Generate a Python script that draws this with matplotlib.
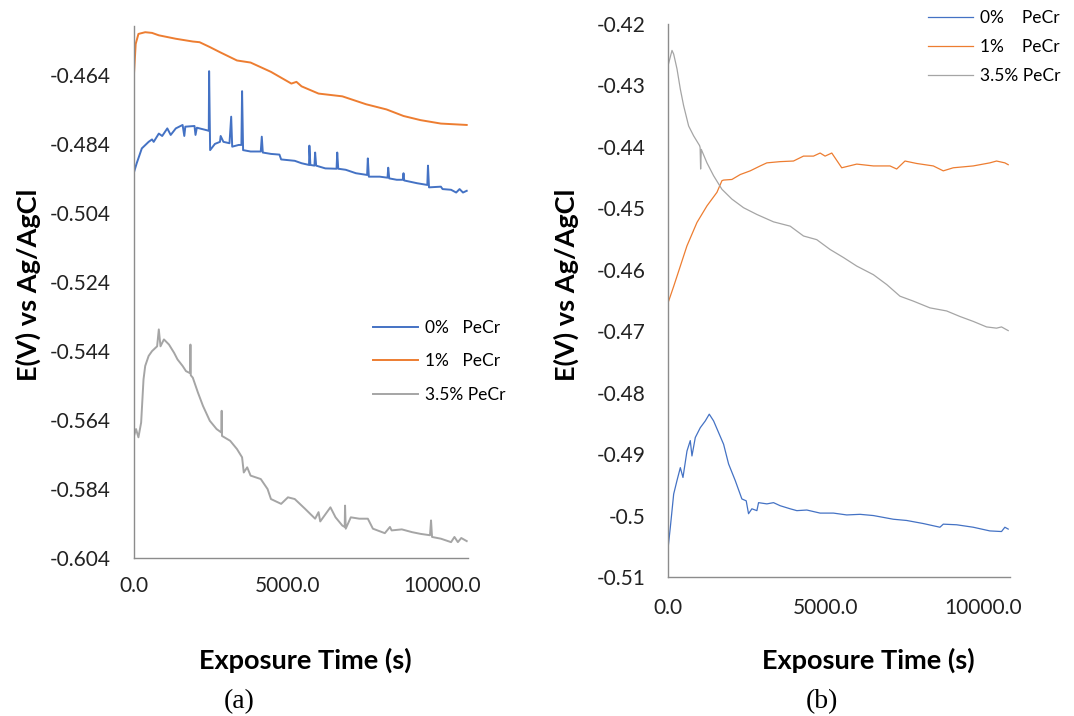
import matplotlib
matplotlib.use("Agg")
import matplotlib.pyplot as plt
import numpy as np

# ---- panel (a) data: time (s) / potential (V) ----
t_a_0 = [0, 88, 254, 475, 585, 640, 806, 916, 1082, 1192, 1358, 1579, 1634, 1667,
         1965, 1998, 2042, 2352, 2429, 2440, 2473, 2628, 2793, 2815, 2904, 3102,
         3157, 3190, 3400, 3489, 3511, 3544, 3787, 4118, 4151, 4184, 4449, 4725,
         4780, 5222, 5443, 5686, 5697, 5730, 5862, 5884, 5917, 6216, 6580, 6602,
         6635, 6878, 7209, 7573, 7596, 7629, 7982, 8236, 8258, 8291, 8534, 8733,
         8755, 8777, 9196, 9528, 9550, 9583, 9969, 10024, 10300, 10466, 10576,
         10687, 10808]
e_a_0 = [-0.4921, -0.4895, -0.4852, -0.4833, -0.4826, -0.4833, -0.4809, -0.4816,
         -0.4794, -0.4813, -0.4794, -0.4784, -0.4816, -0.4789, -0.4787, -0.4813,
         -0.4792, -0.4799, -0.4801, -0.4628, -0.4857, -0.4839, -0.4833, -0.4816,
         -0.4833, -0.4837, -0.4760, -0.4847, -0.4842, -0.4842, -0.4686, -0.4857,
         -0.4861, -0.4861, -0.4818, -0.4864, -0.4868, -0.4870, -0.4884, -0.4888,
         -0.4895, -0.4900, -0.4844, -0.4900, -0.4902, -0.4864, -0.4902, -0.4910,
         -0.4911, -0.4864, -0.4911, -0.4914, -0.4924, -0.4929, -0.4881, -0.4934,
         -0.4934, -0.4937, -0.4908, -0.4939, -0.4943, -0.4943, -0.4924, -0.4945,
         -0.4953, -0.4958, -0.4902, -0.4965, -0.4963, -0.4970, -0.4972, -0.4980,
         -0.4970, -0.4980, -0.4975]

t_a_1 = [0, 55, 144, 364, 585, 806, 1358, 1910, 2131, 2462, 2793, 3345, 3787, 4449,
         5112, 5277, 5443, 5995, 6768, 7540, 8203, 8755, 9307, 9969, 10808]
e_a_1 = [-0.4635, -0.4549, -0.4520, -0.4515, -0.4517, -0.4524, -0.4534, -0.4542,
         -0.4544, -0.4558, -0.4573, -0.4597, -0.4603, -0.4630, -0.4664, -0.4659,
         -0.4672, -0.4693, -0.4701, -0.4724, -0.4739, -0.4758, -0.4770, -0.4780,
         -0.4784]

t_a_35 = [0, 66, 144, 232, 309, 364, 475, 585, 751, 806, 861, 972, 1137, 1303, 1413,
          1579, 1689, 1822, 1833, 1844, 1910, 2076, 2241, 2462, 2683, 2837, 2848,
          2859, 3124, 3345, 3511, 3566, 3677, 3787, 4118, 4339, 4449, 4780, 5001,
          5222, 5553, 5884, 5995, 6050, 6381, 6547, 6768, 6845, 6856, 6878, 7043,
          7319, 7596, 7761, 8148, 8314, 8369, 8700, 9031, 9307, 9616, 9649, 9682,
          9969, 10300, 10410, 10521, 10631, 10808]
e_a_35 = [-0.5686, -0.5666, -0.5690, -0.5647, -0.5522, -0.5483, -0.5454, -0.5440,
          -0.5426, -0.5377, -0.5426, -0.5406, -0.5421, -0.5445, -0.5464, -0.5483,
          -0.5498, -0.5504, -0.5421, -0.5510, -0.5517, -0.5560, -0.5599, -0.5642,
          -0.5666, -0.5676, -0.5613, -0.5686, -0.5700, -0.5724, -0.5748, -0.5792,
          -0.5777, -0.5801, -0.5811, -0.5840, -0.5869, -0.5883, -0.5864, -0.5869,
          -0.5897, -0.5926, -0.5907, -0.5934, -0.5893, -0.5922, -0.5946, -0.5950,
          -0.5888, -0.5955, -0.5922, -0.5926, -0.5926, -0.5955, -0.5968, -0.5950,
          -0.5960, -0.5957, -0.5965, -0.5970, -0.5974, -0.5931, -0.5979, -0.5984,
          -0.5994, -0.5979, -0.5994, -0.5982, -0.5991]

# ---- panel (b) data ----
t_b_0 = [0, 74, 180, 285, 391, 475, 602, 707, 760, 866, 1024, 1183, 1309, 1447,
         1764, 1922, 2133, 2344, 2481, 2555, 2661, 2820, 2873, 3136, 3348, 3559,
         3876, 4087, 4404, 4826, 5248, 5671, 6093, 6516, 7149, 7571, 8100, 8628,
         8733, 9156, 9683, 10211, 10581, 10687, 10793]
e_b_0 = [-0.5054, -0.5019, -0.4965, -0.4943, -0.4922, -0.4938, -0.4895, -0.4878,
         -0.4903, -0.4873, -0.4857, -0.4846, -0.4835, -0.4846, -0.4884, -0.4916,
         -0.4943, -0.4973, -0.4976, -0.4997, -0.4989, -0.4992, -0.4979, -0.4981,
         -0.4979, -0.4984, -0.4989, -0.4992, -0.4991, -0.4996, -0.4996, -0.4999,
         -0.4998, -0.5000, -0.5006, -0.5008, -0.5013, -0.5019, -0.5014, -0.5015,
         -0.5019, -0.5025, -0.5026, -0.5019, -0.5022]

t_b_1 = [0, 180, 391, 602, 919, 1236, 1552, 1711, 1764, 2028, 2292, 2608, 2925,
         3136, 3559, 3981, 4298, 4615, 4826, 4984, 5196, 5512, 5988, 6516, 7043,
         7255, 7519, 7889, 8417, 8733, 9050, 9683, 10211, 10423, 10687, 10793]
e_b_1 = [-0.4654, -0.4627, -0.4594, -0.4561, -0.4523, -0.4496, -0.4474, -0.4455,
         -0.4454, -0.4453, -0.4445, -0.4439, -0.4431, -0.4426, -0.4424, -0.4423,
         -0.4415, -0.4415, -0.4410, -0.4415, -0.4410, -0.4434, -0.4428, -0.4431,
         -0.4431, -0.4436, -0.4423, -0.4427, -0.4431, -0.4439, -0.4434, -0.4431,
         -0.4426, -0.4423, -0.4426, -0.4429]

t_b_35 = [0, 127, 180, 285, 391, 496, 655, 813, 1003, 1019, 1035, 1056, 1236, 1447,
          1711, 2028, 2397, 2820, 3348, 3876, 4298, 4720, 5143, 5565, 5988, 6516,
          6938, 7360, 7783, 8311, 8839, 9261, 9683, 10106, 10423, 10581, 10793]
e_b_35 = [-0.4268, -0.4243, -0.4249, -0.4273, -0.4306, -0.4333, -0.4366, -0.4382,
          -0.4398, -0.4401, -0.4436, -0.4404, -0.4426, -0.4447, -0.4469, -0.4485,
          -0.4499, -0.4510, -0.4522, -0.4529, -0.4545, -0.4551, -0.4567, -0.4580,
          -0.4594, -0.4608, -0.4624, -0.4643, -0.4651, -0.4662, -0.4667, -0.4676,
          -0.4684, -0.4693, -0.4695, -0.4693, -0.4699]

labels_a = ["0%   PeCr", "1%   PeCr", "3.5% PeCr"]
labels_b = ["0%    PeCr", "1%    PeCr", "3.5% PeCr"]
colors = ["#4472C4", "#ED7D31", "#A5A5A5"]

W, H = 1074, 716
fig = plt.figure(figsize=(W / 100, H / 100), dpi=100)
plt.rcParams['font.family'] = ['Lato', 'DejaVu Sans']


def box(l, r, t, b):
    return [l / W, 1 - b / H, (r - l) / W, (b - t) / H]


def style(ax, xmax, ylo, yhi, yticks, yfmt, ypad, xpad):
    ax.set_xlim(0, xmax)
    ax.set_ylim(ylo, yhi)
    ax.set_yticks(yticks)
    ax.set_yticklabels([yfmt(v) for v in yticks])
    ax.set_xticks([0, 5000, 10000])
    ax.set_xticklabels(["0.0", "5000.0", "10000.0"])
    for s in ["top", "right"]:
        ax.spines[s].set_visible(False)
    for s in ["left", "bottom"]:
        ax.spines[s].set_color("#8c8c8c")
        ax.spines[s].set_linewidth(1.0)
    ax.tick_params(axis="y", length=0, pad=ypad, labelsize=15, colors="#222222")
    ax.tick_params(axis="x", length=0, pad=xpad, labelsize=15, colors="#222222")
    ax.patch.set_alpha(0)


# (a)
ax1 = fig.add_axes(box(134, 468, 26, 558))
ax1.plot(t_a_0, e_a_0, color=colors[0], lw=1.4, label=labels_a[0])
ax1.plot(t_a_1, e_a_1, color=colors[1], lw=1.4, label=labels_a[1])
ax1.plot(t_a_35, e_a_35, color=colors[2], lw=1.4, label=labels_a[2])
yt_a = np.round(np.arange(-0.604, -0.463, 0.02), 3)
style(ax1, 10850, -0.604, -0.4497, yt_a, lambda v: "%.3f" % v, 17, 13)
ax1.legend(loc="upper left", bbox_to_anchor=(373 / W, 1 - 320 / H),
           bbox_transform=fig.transFigure, frameon=False, fontsize=12.5,
           handlelength=2.6, handletextpad=0.4, labelspacing=1.0,
           borderpad=0, borderaxespad=0)

# (b)
ax2 = fig.add_axes(box(668, 1010, 24, 577))
ax2.plot(t_b_0, e_b_0, color=colors[0], lw=0.9, label=labels_b[0])
ax2.plot(t_b_1, e_b_1, color=colors[1], lw=0.9, label=labels_b[1])
ax2.plot(t_b_35, e_b_35, color=colors[2], lw=0.9, label=labels_b[2])
yt_b = np.round(np.arange(-0.51, -0.419, 0.01), 2)
style(ax2, 10850, -0.51, -0.42, yt_b, lambda v: "%g" % v, 16, 15)
ax2.legend(loc="upper left", bbox_to_anchor=(928 / W, 1 - 10 / H),
           bbox_transform=fig.transFigure, frameon=False, fontsize=12.5,
           handlelength=2.6, handletextpad=0.4, labelspacing=0.75,
           borderpad=0, borderaxespad=0)

# axis titles
for x, y in [(28, 285), (566, 285)]:
    fig.text(x / W, 1 - y / H, "E(V) vs Ag/AgCl", rotation=90, ha="center",
             va="center", fontsize=19.5, fontweight="bold")
for x, y in [(305, 660), (868, 660)]:
    fig.text(x / W, 1 - y / H, "Exposure Time (s)", ha="center", va="center",
             fontsize=19.5, fontweight="bold")
for x, s in [(239, "(a)"), (822, "(b)")]:
    fig.text(x / W, 1 - 702 / H, s, ha="center", va="center", fontsize=20,
             family="Liberation Serif")

fig.savefig("out.png", dpi=100)
